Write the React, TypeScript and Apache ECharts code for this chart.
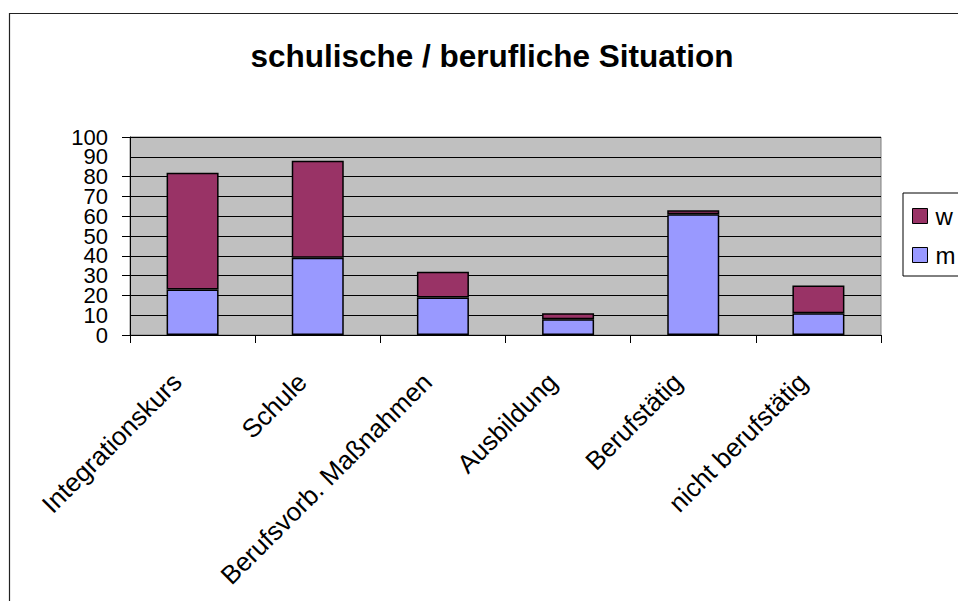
import React, { useEffect, useRef } from "react";
import * as echarts from "echarts";

const categories = [
  "Integrationskurs",
  "Schule",
  "Berufsvorb. Maßnahmen",
  "Ausbildung",
  "Berufstätig",
  "nicht berufstätig",
];
const mValues = [23, 39, 19, 8, 61, 11];
const wValues = [59, 49, 13, 3, 2, 14];
const yTicks = { min: 0, max: 100, interval: 10 };
const titleText = "schulische / berufliche Situation";

const FONT = "'Liberation Sans', Arial, sans-serif";

export default function App() {
  const ref = useRef<HTMLDivElement>(null);
  useEffect(() => {
    if (!ref.current) return;
    const chart = echarts.init(ref.current, undefined, { renderer: "svg" });
    const barStyle = { borderColor: "#000", borderWidth: 1.5 };
    const yLabel = {
      fontSize: 22,
      fontFamily: FONT,
      color: "#000",
      margin: 22,
    };
    chart.setOption({
      animation: false,
      backgroundColor: "#fff",
      textStyle: { fontFamily: FONT, color: "#000" },
      graphic: [
        {
          type: "rect",
          shape: { x: 9.5, y: 13.5, width: 1200, height: 800 },
          style: { fill: "none", stroke: "#222", lineWidth: 1.2 },
          silent: true,
        },
        {
          type: "text",
          x: 492,
          y: 56,
          style: {
            text: titleText,
            font: `bold 31.5px ${FONT}`,
            fill: "#000",
            textAlign: "center",
            textVerticalAlign: "middle",
          },
        },
      ],
      legend: {
        orient: "vertical",
        left: 903,
        top: 193,
        data: ["w", "m"],
        itemWidth: 15,
        itemHeight: 15,
        itemGap: 15,
        padding: [11, 40, 9, 9],
        borderColor: "#000",
        borderWidth: 1,
        backgroundColor: "#fff",
        icon: "rect",
        textStyle: { fontSize: 24, fontFamily: FONT, color: "#000", padding: [0, 0, 0, 3] },
        itemStyle: { borderColor: "#000", borderWidth: 1 },
      },
      grid: {
        left: 130,
        right: 77,
        top: 137,
        bottom: 266,
        show: true,
        backgroundColor: "#C0C0C0",
        borderColor: "#808080",
        borderWidth: 1,
      },
      xAxis: {
        type: "category",
        data: categories,
        axisLine: { lineStyle: { color: "#000", width: 1 } },
        axisTick: { show: true, length: 8, lineStyle: { color: "#000" }, interval: 0 },
        axisLabel: {
          rotate: 45,
          interval: 0,
          fontSize: 26,
          fontFamily: FONT,
          color: "#000",
          margin: 27,
          padding: [0, 22, 0, 0],
        },
      },
      yAxis: [
        {
          type: "value",
          position: "left",
          offset: 0,
          min: yTicks.min,
          max: yTicks.max,
          interval: yTicks.interval,
          axisLine: { show: true, lineStyle: { color: "#000", width: 1 } },
          axisTick: { show: true, length: 8, lineStyle: { color: "#000" } },
          splitLine: { show: true, lineStyle: { color: "#000", width: 1 } },
          axisLabel: { ...yLabel, showMinLabel: true, showMaxLabel: true },
        },
        {
          type: "value",
          position: "left",
          offset: 0,
          min: yTicks.min,
          max: yTicks.max,
          interval: yTicks.interval,
          axisLine: { show: false },
          axisTick: { show: false },
          splitLine: { show: false },
          axisLabel: {
            ...yLabel,
            showMinLabel: false,
            showMaxLabel: false,
            formatter: (v: number) =>
              v === yTicks.min + yTicks.interval || v === yTicks.max - yTicks.interval
                ? String(v)
                : "",
          },
        },
      ],
      series: [
        {
          name: "m",
          type: "bar",
          stack: "total",
          data: mValues,
          barWidth: 52,
          yAxisIndex: 0,
          itemStyle: { color: "#9999FF", ...barStyle },
        },
        {
          name: "w",
          type: "bar",
          stack: "total",
          data: wValues,
          barWidth: 52,
          yAxisIndex: 0,
          itemStyle: { color: "#993366", ...barStyle },
        },
      ],
    });
    return () => chart.dispose();
  }, []);
  return (
    <div
      ref={ref}
      style={{ position: "fixed", left: 0, top: 0, width: 958, height: 601 }}
    />
  );
}
